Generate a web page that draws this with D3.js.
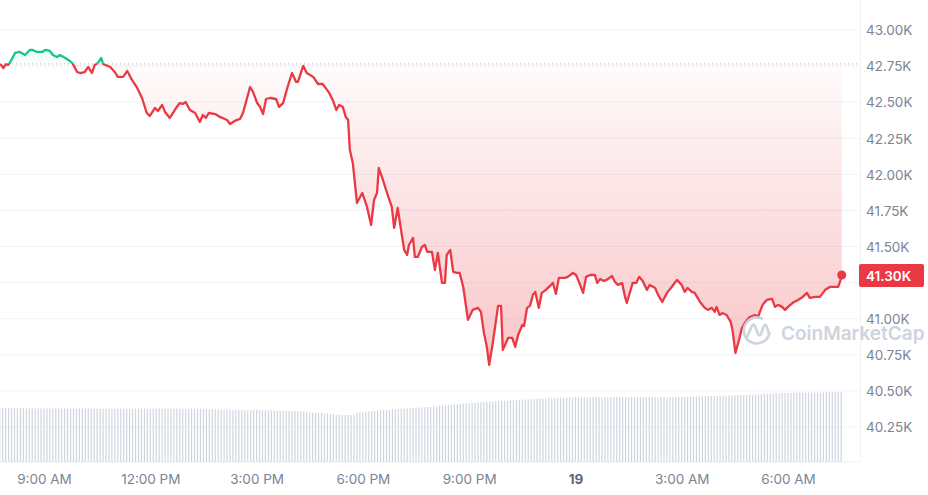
<!DOCTYPE html>
<html><head><meta charset="utf-8">
<script src="https://cdn.jsdelivr.net/npm/d3@7"></script>
<style>html,body{margin:0;padding:0;background:#fff;} svg{display:block;font-family:Inter,"Noto Sans",sans-serif;}</style>
</head><body><svg id="c" width="928" height="495"></svg>
<script>
// ---- DATA ----
const priceTimes = ["18 07:46","18 07:51","18 07:56","18 07:59","18 08:02","18 08:11","18 08:19","18 08:28","18 08:36","18 08:41","18 08:48","18 08:57","18 09:02","18 09:10","18 09:15","18 09:22","18 09:27","18 09:36","18 09:44","18 09:49","18 09:56","18 10:01","18 10:09","18 10:15","18 10:21","18 10:26","18 10:31","18 10:37","18 10:40","18 10:52","18 11:00","18 11:05","18 11:14","18 11:21","18 11:29","18 11:37","18 11:46","18 11:54","18 11:59","18 12:08","18 12:13","18 12:20","18 12:25","18 12:33","18 12:45","18 12:50","18 12:55","18 13:00","18 13:07","18 13:16","18 13:24","18 13:29","18 13:34","18 13:39","18 13:50","18 13:58","18 14:10","18 14:15","18 14:23","18 14:32","18 14:37","18 14:49","18 14:54","18 15:01","18 15:06","18 15:11","18 15:16","18 15:23","18 15:33","18 15:38","18 15:45","18 15:52","18 16:00","18 16:07","18 16:10","18 16:19","18 16:25","18 16:36","18 16:44","18 16:52","18 17:03","18 17:09","18 17:15","18 17:20","18 17:26","18 17:31","18 17:35","18 17:38","18 17:43","18 17:50","18 17:59","18 18:07","18 18:14","18 18:19","18 18:24","18 18:27","18 18:34","18 18:41","18 18:49","18 18:53","18 18:59","18 19:06","18 19:10","18 19:15","18 19:18","18 19:25","18 19:28","18 19:33","18 19:40","18 19:45","18 19:49","18 19:57","18 20:02","18 20:07","18 20:14","18 20:19","18 20:22","18 20:28","18 20:33","18 20:39","18 20:44","18 20:50","18 20:58","18 21:06","18 21:15","18 21:20","18 21:25","18 21:30","18 21:34","18 21:40","18 21:49","18 21:54","18 21:57","18 22:06","18 22:13","18 22:18","18 22:23","18 22:30","18 22:33","18 22:38","18 22:43","18 22:48","18 22:52","18 22:58","18 23:03","18 23:08","18 23:17","18 23:22","18 23:27","18 23:32","18 23:42","18 23:47","18 23:56","19 00:01","19 00:06","19 00:13","19 00:18","19 00:25","19 00:33","19 00:37","19 00:42","19 00:48","19 00:53","19 01:02","19 01:07","19 01:12","19 01:19","19 01:24","19 01:27","19 01:34","19 01:37","19 01:43","19 01:48","19 01:54","19 02:01","19 02:06","19 02:15","19 02:20","19 02:27","19 02:35","19 02:43","19 02:52","19 03:00","19 03:05","19 03:10","19 03:17","19 03:22","19 03:31","19 03:39","19 03:44","19 03:51","19 03:56","19 03:59","19 04:04","19 04:09","19 04:16","19 04:23","19 04:26","19 04:31","19 04:37","19 04:42","19 04:48","19 04:55","19 05:04","19 05:09","19 05:17","19 05:24","19 05:33","19 05:38","19 05:43","19 05:50","19 05:55","19 06:00","19 06:08","19 06:17","19 06:25","19 06:32","19 06:37","19 06:46","19 06:54","19 07:03","19 07:11","19 07:25","19 07:28","19 07:31"];
const prices = [42765,42737,42765,42758,42771,42841,42848,42827,42862,42862,42848,42848,42862,42855,42827,42813,42827,42806,42785,42765,42709,42702,42709,42744,42702,42758,42771,42806,42765,42744,42709,42675,42675,42716,42654,42605,42529,42425,42404,42460,42439,42481,42432,42391,42467,42494,42488,42501,42446,42425,42363,42411,42391,42425,42418,42398,42377,42349,42370,42384,42425,42605,42571,42494,42467,42418,42522,42529,42522,42467,42494,42598,42702,42640,42640,42751,42702,42675,42626,42626,42564,42515,42446,42481,42467,42398,42377,42169,42079,41802,41871,41774,41650,41823,41871,42044,41961,41871,41774,41629,41767,41580,41477,41442,41511,41560,41428,41428,41497,41511,41463,41463,41338,41456,41248,41248,41442,41477,41324,41317,41317,41220,40992,41061,41075,41047,40902,40805,40680,40832,41089,41089,40784,40867,40867,40805,40888,40957,40950,41075,41089,41165,41186,41075,41179,41193,41227,41248,41172,41283,41283,41290,41317,41303,41255,41179,41290,41303,41303,41248,41276,41262,41269,41296,41255,41234,41248,41151,41110,41206,41248,41248,41290,41262,41200,41234,41213,41165,41116,41179,41220,41269,41234,41186,41213,41186,41179,41116,41075,41061,41075,41047,41082,41026,41040,41026,40978,40922,40763,40853,40936,40978,41012,41026,41012,41096,41130,41137,41082,41096,41082,41061,41082,41110,41130,41151,41179,41144,41151,41151,41200,41220,41220,41255,41303];
const yTickValues = [40250,40500,40750,41000,41250,41500,41750,42000,42250,42500,42750,43000];
const volumeStart = "18 07:45";   // first volume bar
const volumeStepMinutes = 5;       // one bar every 5 minutes
const volumes = [ // 24h volume, billions USD
19.2,19.2,19.2,19.1,19.2,19.2,19.1,19.2,19.2,19.1,19.1,19.2,19.1,19.1,19.1,19.2,19.1,19.1,19.0,19.1,
19.1,19.0,19.1,19.0,19.0,19.1,19.0,19.0,19.0,19.1,19.0,19.0,19.0,19.0,19.0,18.9,19.0,19.0,19.0,18.9,
19.0,19.0,18.9,19.0,19.0,19.0,18.9,19.0,19.1,19.0,19.0,18.9,19.0,19.0,19.0,19.1,19.0,19.0,18.9,19.0,
19.0,19.0,18.9,19.0,19.0,18.9,18.9,18.9,18.9,18.8,18.8,18.8,18.8,18.7,18.7,18.7,18.7,18.7,18.6,18.6,
18.6,18.6,18.6,18.5,18.5,18.5,18.5,18.5,18.4,18.4,18.4,18.4,18.4,18.3,18.3,18.3,18.3,18.3,18.2,18.2,
18.2,18.2,18.0,17.9,17.8,17.7,17.6,17.5,17.4,17.4,17.3,17.2,17.1,17.0,16.9,16.8,16.8,16.7,16.8,16.8,
16.8,17.6,17.7,17.8,17.9,18.0,18.1,18.2,18.3,18.4,18.5,18.6,18.6,18.7,18.8,18.9,19.0,19.0,19.1,19.2,
19.2,19.3,19.4,19.4,19.5,19.6,19.6,19.7,19.8,20.0,20.1,20.2,20.3,20.4,20.5,20.6,20.7,20.8,20.9,21.0,
21.1,21.1,21.2,21.3,21.4,21.4,21.5,21.6,21.6,21.7,21.8,21.8,21.9,22.0,22.0,22.1,22.1,22.2,22.3,22.3,
22.4,22.4,22.5,22.6,22.6,22.7,22.8,22.8,22.8,22.9,22.9,22.9,22.9,23.0,22.9,23.0,23.0,23.0,23.0,23.0,
23.0,23.1,23.0,23.1,23.0,23.1,23.1,23.1,23.1,23.1,23.1,23.0,23.1,23.1,23.1,23.1,23.1,23.0,23.1,23.1,
23.1,23.1,23.1,23.1,23.1,23.1,23.0,23.1,23.1,23.1,23.1,23.1,23.2,23.2,23.3,23.3,23.3,23.4,23.4,23.4,
23.5,23.5,23.5,23.5,23.6,23.6,23.6,23.7,23.7,23.8,23.8,23.8,23.9,23.9,24.0,24.0,24.1,24.1,24.2,24.3,
24.3,24.4,24.4,24.5,24.5,24.6,24.6,24.6,24.6,24.7,24.7,24.7,24.7,24.7,24.8,24.8,24.8,24.8,24.8,24.8,
24.8,24.9,24.9,24.9,24.9,24.9];

// ---- CHART ----
const RED = "#ea3943", GREEN = "#16c784";
const parse = d3.timeParse("%d %H:%M");
const data = priceTimes.map((t, i) => ({t: parse(t), v: prices[i]}));
const base = prices[0];
const last = data[data.length - 1];

const svg = d3.select("#c");
const plotRight = 860, volBottom = 462;

const x = d3.scaleTime().domain([parse("18 09:00"), parse("19 06:00")]).range([44, 788]);
const y = d3.scaleLinear().domain([40250, 43000]).range([427, 30]);
const yv = d3.scaleLinear().domain([0, 26]).range([volBottom, 389]);

// gradients
const defs = svg.append("defs");
const gR = defs.append("linearGradient").attr("id", "gRed").attr("gradientUnits", "userSpaceOnUse")
  .attr("x1", 0).attr("x2", 0).attr("y1", y(base)).attr("y2", y(d3.min(prices)));
gR.append("stop").attr("offset", 0).attr("stop-color", RED).attr("stop-opacity", 0.02);
gR.append("stop").attr("offset", 1).attr("stop-color", RED).attr("stop-opacity", 0.29);
const gG = defs.append("linearGradient").attr("id", "gGreen").attr("gradientUnits", "userSpaceOnUse")
  .attr("x1", 0).attr("x2", 0).attr("y1", y(d3.max(prices))).attr("y2", y(base));
gG.append("stop").attr("offset", 0).attr("stop-color", GREEN).attr("stop-opacity", 0.10);
gG.append("stop").attr("offset", 1).attr("stop-color", GREEN).attr("stop-opacity", 0.01);
defs.append("clipPath").attr("id", "clipUp").append("rect")
  .attr("x", -10).attr("y", 0).attr("width", 1000).attr("height", y(base));
defs.append("clipPath").attr("id", "clipDown").append("rect")
  .attr("x", -10).attr("y", y(base)).attr("width", 1000).attr("height", 495);

// grid
svg.append("g").selectAll("line").data(yTickValues).join("line")
  .attr("x1", 0).attr("x2", plotRight).attr("y1", d => y(d)).attr("y2", d => y(d))
  .attr("stroke", "#f1f3f6").attr("stroke-width", 1);
svg.append("line").attr("x1", 0).attr("x2", plotRight).attr("y1", volBottom).attr("y2", volBottom)
  .attr("stroke", "#eef1f5");
svg.append("line").attr("x1", plotRight + 0.5).attr("x2", plotRight + 0.5).attr("y1", 0).attr("y2", volBottom)
  .attr("stroke", "#f1f3f6");

// volume bars
const v0 = parse(volumeStart);
svg.append("g").selectAll("rect").data(volumes).join("rect")
  .attr("x", (d, i) => x(d3.timeMinute.offset(v0, i * volumeStepMinutes)) - 0.6)
  .attr("width", 1.2)
  .attr("y", d => yv(d))
  .attr("height", d => volBottom - yv(d))
  .attr("fill", "#cfd5df");

// areas
const area = d3.area().x(d => x(d.t)).y0(y(base)).y1(d => y(d.v));
svg.append("path").datum(data).attr("d", area).attr("fill", "url(#gRed)").attr("clip-path", "url(#clipDown)");
svg.append("path").datum(data).attr("d", area).attr("fill", "url(#gGreen)").attr("clip-path", "url(#clipUp)");

// baseline dotted
svg.append("line").attr("x1", 0).attr("x2", plotRight).attr("y1", y(base)).attr("y2", y(base))
  .attr("stroke", "#aab2be").attr("stroke-width", 1).attr("stroke-dasharray", "1,3");

// lines
const line = d3.line().x(d => x(d.t)).y(d => y(d.v));
svg.append("path").datum(data).attr("d", line).attr("fill", "none").attr("stroke", RED)
  .attr("stroke-width", 2.3).attr("stroke-linejoin", "round").attr("clip-path", "url(#clipDown)");
svg.append("path").datum(data).attr("d", line).attr("fill", "none").attr("stroke", GREEN)
  .attr("stroke-width", 2.3).attr("stroke-linejoin", "round").attr("clip-path", "url(#clipUp)");

// watermark
const wm = svg.append("g").attr("opacity", 0.9);
wm.append("path")
  .attr("d", "M769.5,333 A13,13 0 1 1 762,318.5")
  .attr("fill", "none").attr("stroke", "#c9d0da").attr("stroke-width", 2.6).attr("stroke-linecap", "round");
wm.append("path")
  .attr("d", "M747,337 L752,326 Q753.5,323 755,326 L758,334 Q759.5,337 761,334 L764,326 Q765.5,323 767,327 L769,334")
  .attr("fill", "none").attr("stroke", "#c9d0da").attr("stroke-width", 2.6).attr("stroke-linecap", "round").attr("stroke-linejoin", "round");
wm.append("text").attr("x", 781).attr("y", 340).text("CoinMarketCap")
  .attr("font-size", 19).attr("font-weight", 600).attr("fill", "#c9d0da");

// end dot
svg.append("circle").attr("cx", x(last.t)).attr("cy", y(last.v)).attr("r", 4.5).attr("fill", RED);

// y axis labels (the one hidden under the price tag is not shown)
const fmtK = v => d3.format(".2f")(v / 1000) + "K";
const shownTicks = yTickValues.filter(v => Math.abs(y(v) - y(last.v)) > 12);
const yAxis = d3.axisRight(y).tickValues(shownTicks).tickFormat(fmtK).tickSize(0).tickPadding(0);
const ga = svg.append("g").attr("transform", `translate(866,0)`).call(yAxis);
ga.select(".domain").remove();
ga.selectAll("text").attr("font-family", "Inter, 'Noto Sans', sans-serif").attr("font-size", 13.5)
  .attr("fill", "#7b8494").attr("dy", "0.35em");

// current price tag
svg.append("rect").attr("x", 859).attr("y", y(last.v) - 11).attr("width", 65).attr("height", 23)
  .attr("rx", 2).attr("fill", RED);
svg.append("text").attr("x", 866).attr("y", y(last.v) + 1).attr("dy", "0.35em")
  .attr("font-size", 13.5).attr("font-weight", 600).attr("fill", "#fff").text(fmtK(last.v));

// x axis
const xAxis = d3.axisBottom(x).ticks(d3.timeHour.every(3))
  .tickFormat(d => d.getHours() === 0 ? d3.timeFormat("%-d")(d) : d3.timeFormat("%-I:%M %p")(d))
  .tickSize(0).tickPadding(0);
const gx = svg.append("g").attr("transform", `translate(0,474)`).call(xAxis);
gx.select(".domain").remove();
gx.selectAll("text").attr("font-family", "Inter, 'Noto Sans', sans-serif").attr("font-size", 13.5)
  .attr("font-weight", d => d.getHours() === 0 ? 700 : 400)
  .attr("fill", d => d.getHours() === 0 ? "#58667e" : "#7b8494");
gx.selectAll(".tick").filter(d => d < data[0].t || d > last.t).remove();
</script></body></html>
